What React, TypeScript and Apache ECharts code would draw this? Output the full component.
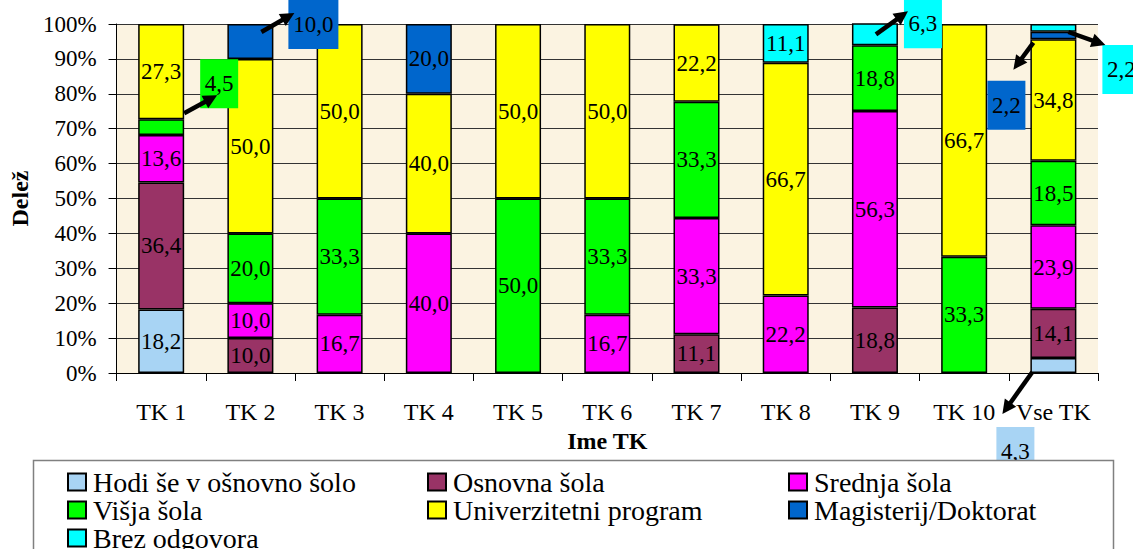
import React, { useEffect, useRef } from "react";
import * as echarts from "echarts";

const categories = ["TK 1", "TK 2", "TK 3", "TK 4", "TK 5", "TK 6", "TK 7", "TK 8", "TK 9", "TK 10", "Vse TK"];
const yTicks = [0, 10, 20, 30, 40, 50, 60, 70, 80, 90, 100];

const seriesNames = [
  "Hodi še v ošnovno šolo",
  "Osnovna šola",
  "Srednja šola",
  "Višja šola",
  "Univerzitetni program",
  "Magisterij/Doktorat",
  "Brez odgovora",
];
const hodi = [18.2, null, null, null, null, null, null, null, null, null, 4.3];
const osnovna = [36.4, 10.0, null, null, null, null, 11.1, null, 18.8, null, 14.1];
const srednja = [13.6, 10.0, 16.7, 40.0, null, 16.7, 33.3, 22.2, 56.3, null, 23.9];
const visja = [4.5, 20.0, 33.3, null, 50.0, 33.3, 33.3, null, 18.8, 33.3, 18.5];
const univ = [27.3, 50.0, 50.0, 40.0, 50.0, 50.0, 22.2, 66.7, null, 66.7, 34.8];
const magisterij = [null, 10.0, null, 20.0, null, null, null, null, null, null, 2.2];
const brez = [null, null, null, null, null, null, null, 11.1, 6.3, null, 2.2];

const seriesData = [hodi, osnovna, srednja, visja, univ, magisterij, brez];
const colors = ["#A8D4F4", "#993366", "#FF00FF", "#00FF00", "#FFFF00", "#0066CC", "#00FFFF"];

// callouts: series index, category index, offsets relative to segment top (style only)
const callouts = [
  { s: 3, c: 0, start: [23, -6], tip: [56, -24], box: [39, -60, 38, 49] },
  { s: 5, c: 1, start: [11, 8], tip: [44, -11], box: [38, -24, 50, 49] },
  { s: 6, c: 8, start: [1, 11], tip: [33, -12], box: [29, -24, 38, 49] },
  { s: 5, c: 10, start: [-20, 11], tip: [-40, 38], box: [-66, 49, 38, 49] },
  { s: 6, c: 10, start: [15, 8], tip: [52, 21], box: [49, 21, 38, 49] },
  { s: 0, c: 10, start: [-21, 14], tip: [-51, 56], box: [-57, 69, 38, 49] },
];

const FONT = "'Liberation Serif', 'Times New Roman', serif";
const fmt = (v: number) => v.toFixed(1).replace(".", ",");

export default function App() {
  const ref = useRef<HTMLDivElement>(null);
  useEffect(() => {
    document.body.style.margin = "0";
    const chart = echarts.init(ref.current!, null, { renderer: "svg" });
    const isCallout = (s: number, c: number) => callouts.some((k) => k.s === s && k.c === c);

    const series = seriesNames.map((name, si) => ({
      name,
      type: "bar",
      stack: "total",
      barWidth: 46,
      itemStyle: { color: colors[si], borderColor: "#000", borderWidth: 1.5 },
      label: {
        show: true,
        position: "inside",
        color: "#000",
        fontFamily: FONT,
        fontSize: 23,
        formatter: (p: any) => (p.value == null ? "" : fmt(p.value)),
      },
      data: seriesData[si].map((v, ci) =>
        v != null && isCallout(si, ci) ? { value: v, label: { show: false } } : v
      ),
    }));

    const legendCol = (names: string[], left: number) => ({
      orient: "vertical",
      left,
      top: 468,
      height: 160,
      padding: 0,
      z: 20,
      icon: "rect",
      itemWidth: 18,
      itemHeight: 17,
      itemGap: 0,
      selectedMode: false,
      textStyle: { fontFamily: FONT, fontSize: 28, lineHeight: 25, color: "#000", padding: [0, 0, 0, 2] },
      data: names,
    });

    chart.setOption({
      animation: false,
      backgroundColor: "#fff",
      textStyle: { fontFamily: FONT },
      grid: {
        left: 112,
        right: 35,
        top: 24,
        bottom: 176,
        show: true,
        backgroundColor: "#FBF3E1",
        borderWidth: 0,
      },
      legend: [
        legendCol([seriesNames[0], seriesNames[3], seriesNames[6]], 67),
        legendCol([seriesNames[1], seriesNames[4]], 427),
        legendCol([seriesNames[2], seriesNames[5]], 788),
      ],
      xAxis: {
        type: "category",
        data: categories,
        name: "Ime TK",
        nameLocation: "middle",
        nameGap: 54,
        nameTextStyle: { fontFamily: FONT, fontSize: 24, fontWeight: "bold", color: "#000" },
        axisLine: { lineStyle: { color: "#000", width: 1 } },
        axisTick: { show: true, length: 8, lineStyle: { color: "#000" } },
        axisLabel: { interval: 0, fontFamily: FONT, fontSize: 24, color: "#000", margin: 27 },
      },
      yAxis: {
        type: "value",
        min: 0,
        max: 100,
        interval: 10,
        name: "Delež",
        nameLocation: "middle",
        nameRotate: 90,
        nameGap: 82,
        nameTextStyle: { fontFamily: FONT, fontSize: 24, fontWeight: "bold", color: "#000" },
        axisLine: { show: true, lineStyle: { color: "#000", width: 1 } },
        axisTick: { show: true, length: 8, lineStyle: { color: "#000" } },
        splitLine: { show: true, lineStyle: { color: "#333", width: 1 } },
        axisLabel: {
          fontFamily: FONT,
          fontSize: 23,
          color: "#000",
          margin: 20,
          formatter: (v: number) => (yTicks.includes(v) ? v + "%" : ""),
        },
      },
      series,
    });

    const graphics: any[] = [];
    callouts.forEach((k) => {
      let cum = 0;
      for (let s = 0; s <= k.s; s++) cum += (seriesData[s][k.c] as number) || 0;
      const p = chart.convertToPixel({ xAxisIndex: 0, yAxisIndex: 0 }, [k.c, cum]) as number[];
      const [bx, by, bw, bh] = k.box;
      graphics.push({
        type: "rect",
        z: 10,
        shape: { x: p[0] + bx, y: p[1] + by, width: bw, height: bh },
        style: { fill: colors[k.s] },
      });
      graphics.push({
        type: "text",
        z: 11,
        x: p[0] + bx + bw / 2,
        y: p[1] + by + bh / 2,
        style: {
          text: fmt(seriesData[k.s][k.c] as number),
          fontFamily: FONT,
          fontSize: 23,
          fill: "#000",
          align: "center",
          verticalAlign: "middle",
        },
      });
      const x1 = p[0] + k.start[0];
      const y1 = p[1] + k.start[1];
      const x2 = p[0] + k.tip[0];
      const y2 = p[1] + k.tip[1];
      const dx = x2 - x1;
      const dy = y2 - y1;
      const len = Math.sqrt(dx * dx + dy * dy);
      const ux = dx / len;
      const uy = dy / len;
      const hl = 14;
      const hw = 7;
      const bxp = x2 - ux * hl;
      const byp = y2 - uy * hl;
      graphics.push({
        type: "line",
        z: 12,
        shape: { x1, y1, x2: bxp + ux * 2, y2: byp + uy * 2 },
        style: { stroke: "#000", lineWidth: 4.5 },
      });
      graphics.push({
        type: "polygon",
        z: 12,
        shape: {
          points: [
            [x2, y2],
            [bxp - uy * hw, byp + ux * hw],
            [bxp + uy * hw, byp - ux * hw],
          ],
        },
        style: { fill: "#000" },
      });
    });
    graphics.push({
      type: "rect",
      z: 15,
      shape: { x: 33.5, y: 460.5, width: 1080, height: 140 },
      style: { fill: "#fff", stroke: "#808080", lineWidth: 1.5 },
    });
    chart.setOption({ graphic: graphics });

    return () => chart.dispose();
  }, []);
  return <div ref={ref} style={{ width: 1133, height: 549 }} />;
}
